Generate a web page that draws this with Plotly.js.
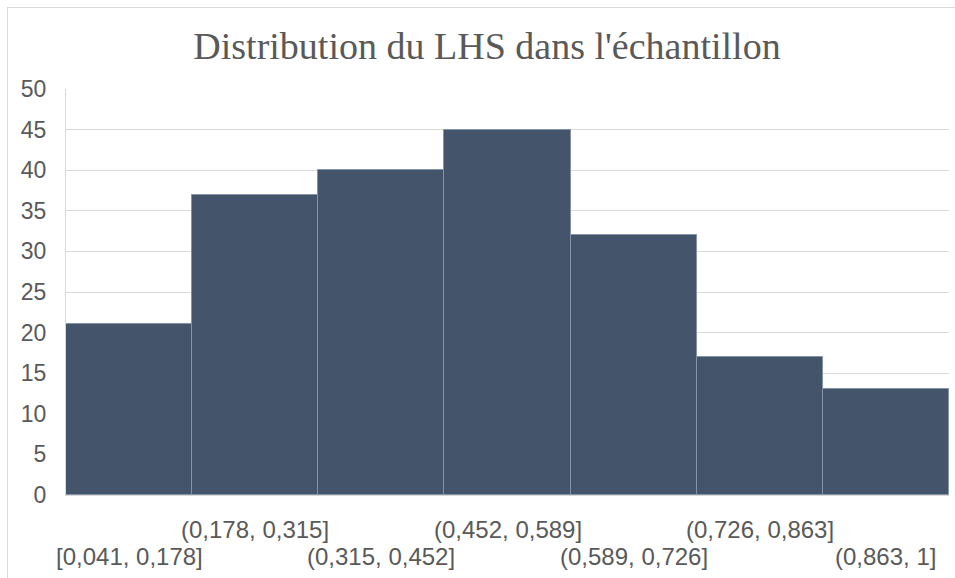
<!DOCTYPE html>
<html>
<head>
<meta charset="utf-8">
<script src="https://cdn.plot.ly/plotly-3.0.1.min.js"></script>
<style>
  html, body { margin: 0; padding: 0; background: #ffffff; }
  #frame { position: absolute; left: 7px; top: 7px; width: 948px; height: 571px;
           border-left: 1px solid #d9d9d9; border-top: 1px solid #d9d9d9; box-sizing: border-box; }
  #chart { position: absolute; left: 0; top: 0; width: 955px; height: 578px; }
</style>
</head>
<body>
<div id="chart"></div>
<div id="frame"></div>
<script>
const categories = ["[0,041, 0,178]", "(0,178, 0,315]", "(0,315, 0,452]", "(0,452, 0,589]",
                    "(0,589, 0,726]", "(0,726, 0,863]", "(0,863, 1]"];
const counts = [21, 37, 40, 45, 32, 17, 13];
const yTicks = [0, 5, 10, 15, 20, 25, 30, 35, 40, 45, 50];

const labelFont = { family: "Liberation Sans, Arial, sans-serif", size: 24, color: "#595959" };

const annotations = categories.map((c, i) => ({
  x: c, xref: "x", y: 0, yref: "paper",
  text: c, showarrow: false,
  xanchor: "center", yanchor: "middle",
  yshift: (i % 2 === 1) ? -34 : -61,
  font: labelFont
}));

const trace = {
  type: "bar",
  x: categories,
  y: counts,
  marker: { color: "#44546a", line: { color: "#8593a8", width: 1 } },
  hoverinfo: "x+y"
};

const layout = {
  width: 955, height: 578,
  margin: { l: 66, r: 6, t: 89, b: 83 },
  paper_bgcolor: "#ffffff", plot_bgcolor: "#ffffff",
  bargap: 0,
  showlegend: false,
  title: {
    text: "Distribution du LHS dans l'échantillon",
    font: { family: "Liberation Serif, Times New Roman, serif", size: 38, color: "#595959" },
    x: 487 / 955, xanchor: "center", xref: "container",
    y: 1 - 46 / 578, yanchor: "middle", yref: "container"
  },
  xaxis: {
    type: "category",
    range: [-0.5, categories.length - 0.5],
    showticklabels: false,
    showgrid: false,
    showline: true, linecolor: "#d9d9d9", linewidth: 1,
    ticks: "", zeroline: false, fixedrange: true
  },
  yaxis: {
    range: [0, 50],
    tickvals: yTicks,
    ticktext: yTicks.map(String),
    tickfont: { family: "Liberation Sans, Arial, sans-serif", size: 23, color: "#595959" },
    showgrid: true, gridcolor: "#d9d9d9", gridwidth: 1,
    showline: true, linecolor: "#d9d9d9", linewidth: 1,
    zeroline: false,
    ticks: "", ticklabelstandoff: 14, fixedrange: true
  },
  annotations: annotations
};

Plotly.newPlot("chart", [trace], layout, { displayModeBar: false });
</script>
</body>
</html>
